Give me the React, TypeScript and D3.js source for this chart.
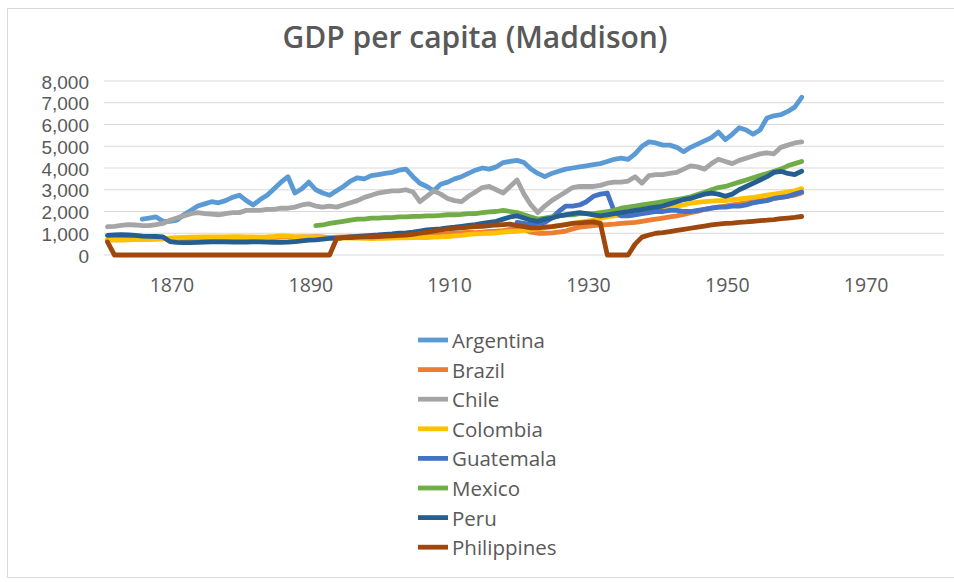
import React from "react";
import * as d3 from "d3";

const years = [
  1861, 1862, 1863, 1864, 1865, 1866, 1867, 1868, 1869, 1870,
  1871, 1872, 1873, 1874, 1875, 1876, 1877, 1878, 1879, 1880,
  1881, 1882, 1883, 1884, 1885, 1886, 1887, 1888, 1889, 1890,
  1891, 1892, 1893, 1894, 1895, 1896, 1897, 1898, 1899, 1900,
  1901, 1902, 1903, 1904, 1905, 1906, 1907, 1908, 1909, 1910,
  1911, 1912, 1913, 1914, 1915, 1916, 1917, 1918, 1919, 1920,
  1921, 1922, 1923, 1924, 1925, 1926, 1927, 1928, 1929, 1930,
  1931, 1932, 1933, 1934, 1935, 1936, 1937, 1938, 1939, 1940,
  1941, 1942, 1943, 1944, 1945, 1946, 1947, 1948, 1949, 1950,
  1951, 1952, 1953, 1954, 1955, 1956, 1957, 1958, 1959, 1960,
  1961,
];

const _ = null;

const argentina = [
  _, _, _, _, _, 1650, 1700, 1750, 1550, 1550,
  1600, 1850, 2050, 2250, 2350, 2450, 2400, 2500, 2650, 2750,
  2500, 2300, 2550, 2750, 3050, 3350, 3600, 2850, 3050, 3350,
  3000, 2850, 2750, 2950, 3150, 3400, 3550, 3500, 3650, 3700,
  3750, 3800, 3900, 3950, 3600, 3300, 3150, 2950, 3250, 3350,
  3500, 3600, 3750, 3900, 4000, 3950, 4050, 4250, 4300, 4350,
  4250, 3950, 3750, 3600, 3750, 3850, 3950, 4000, 4050, 4100,
  4150, 4200, 4300, 4400, 4450, 4400, 4650, 5000, 5200, 5150,
  5050, 5050, 4950, 4750, 4950, 5100, 5250, 5400, 5650, 5300,
  5550, 5850, 5750, 5550, 5750, 6300, 6400, 6450, 6600, 6800,
  7250,
];

const brazil = [
  700, 700, 710, 720, 720, 730, 730, 740, 740, 750,
  760, 760, 770, 770, 780, 780, 780, 790, 790, 800,
  800, 800, 810, 810, 800, 820, 820, 820, 830, 830,
  840, 830, 800, 820, 830, 840, 820, 810, 800, 800,
  820, 840, 850, 870, 880, 900, 920, 930, 950, 980,
  1000, 1020, 1050, 1030, 1050, 1080, 1100, 1120, 1180, 1220,
  1180, 1050, 1000, 1000, 1020, 1050, 1100, 1200, 1280, 1320,
  1350, 1380, 1400, 1420, 1450, 1480, 1500, 1550, 1600, 1650,
  1700, 1750, 1800, 1870, 1950, 2000, 2100, 2150, 2200, 2250,
  2300, 2350, 2400, 2450, 2500, 2550, 2600, 2650, 2700, 2750,
  2850,
];

const chile = [
  1300, 1320, 1360, 1400, 1380, 1350, 1350, 1400, 1450, 1600,
  1700, 1800, 1900, 1950, 1900, 1880, 1850, 1900, 1950, 1950,
  2050, 2050, 2050, 2100, 2100, 2150, 2150, 2200, 2300, 2350,
  2250, 2200, 2250, 2200, 2300, 2400, 2500, 2650, 2750, 2850,
  2900, 2950, 2950, 3000, 2900, 2450, 2700, 2950, 2800, 2600,
  2500, 2450, 2700, 2900, 3100, 3150, 3000, 2850, 3150, 3450,
  2800, 2300, 1950, 2250, 2500, 2700, 2900, 3100, 3150, 3150,
  3150, 3200, 3300, 3350, 3350, 3400, 3600, 3300, 3650, 3700,
  3700, 3750, 3800, 3950, 4100, 4050, 3950, 4200, 4400, 4300,
  4200, 4350, 4450, 4550, 4650, 4700, 4650, 4950, 5050, 5150,
  5200,
];

const colombia = [
  700, 700, 690, 700, 710, 720, 720, 730, 750, 780,
  800, 810, 820, 820, 830, 830, 830, 830, 840, 840,
  830, 830, 820, 830, 850, 880, 870, 840, 830, 820,
  810, 800, 790, 780, 780, 780, 780, 760, 750, 760,
  770, 780, 790, 790, 800, 800, 800, 820, 830, 850,
  880, 900, 950, 970, 980, 1000, 1020, 1050, 1080, 1100,
  1130, 1160, 1200, 1250, 1300, 1350, 1400, 1450, 1500, 1550,
  1600, 1680, 1750, 1800, 1850, 1900, 1950, 2000, 2050, 2100,
  2150, 2200, 2250, 2300, 2380, 2420, 2450, 2480, 2500, 2500,
  2550, 2580, 2620, 2650, 2700, 2750, 2800, 2850, 2900, 2950,
  3050,
];

const guatemala = [
  _, _, _, _, _, _, _, _, _, _,
  _, _, _, _, _, _, _, _, _, _,
  _, _, _, _, _, _, _, _, _, _,
  _, _, _, _, _, _, _, _, _, _,
  _, _, _, _, _, _, _, _, _, _,
  _, _, _, _, _, _, _, _, _, 1500,
  1450, 1400, 1450, 1500, 1700, 2000, 2250, 2250, 2300, 2450,
  2700, 2800, 2850, 2000, 1800, 1800, 1850, 1900, 1950, 2000,
  2000, 2050, 2050, 2000, 2000, 2050, 2100, 2150, 2200, 2200,
  2250, 2250, 2300, 2400, 2450, 2500, 2600, 2650, 2700, 2800,
  2900,
];

const mexico = [
  _, _, _, _, _, _, _, _, _, _,
  _, _, _, _, _, _, _, _, _, _,
  _, _, _, _, _, _, _, _, _, _,
  1350, 1380, 1450, 1500, 1550, 1600, 1650, 1650, 1700, 1700,
  1720, 1720, 1750, 1750, 1780, 1780, 1800, 1800, 1820, 1850,
  1850, 1870, 1900, 1900, 1950, 1980, 2000, 2050, 2000, 1950,
  1850, 1750, 1650, 1700, 1750, 1800, 1850, 1850, 1900, 1900,
  1900, 1950, 2000, 2050, 2150, 2200, 2250, 2300, 2350, 2400,
  2450, 2500, 2550, 2600, 2680, 2780, 2880, 3000, 3100, 3150,
  3250, 3350, 3450, 3550, 3650, 3750, 3850, 3950, 4100, 4200,
  4300,
];

const peru = [
  900, 920, 930, 920, 900, 870, 860, 850, 830, 620,
  580, 570, 570, 580, 590, 600, 600, 600, 590, 590,
  590, 600, 600, 590, 580, 580, 590, 620, 650, 680,
  700, 730, 760, 780, 800, 830, 860, 880, 900, 920,
  950, 970, 1000, 1020, 1050, 1100, 1150, 1180, 1200, 1250,
  1280, 1320, 1360, 1400, 1450, 1500, 1550, 1650, 1750, 1800,
  1700, 1600, 1550, 1650, 1700, 1800, 1850, 1900, 1950, 1900,
  1850, 1800, 1850, 1900, 1950, 2000, 2050, 2100, 2150, 2200,
  2250, 2350, 2450, 2550, 2600, 2700, 2800, 2850, 2800, 2700,
  2800, 3000, 3150, 3300, 3450, 3600, 3800, 3850, 3750, 3700,
  3850,
];

const philippines = [
  600, 0, 0, 0, 0, 0, 0, 0, 0, 0,
  0, 0, 0, 0, 0, 0, 0, 0, 0, 0,
  0, 0, 0, 0, 0, 0, 0, 0, 0, 0,
  0, 0, 0, 750, 800, 800, 820, 830, 830, 850,
  870, 880, 900, 920, 950, 1000, 1050, 1100, 1150, 1200,
  1220, 1250, 1280, 1300, 1320, 1350, 1380, 1400, 1420, 1350,
  1300, 1250, 1250, 1280, 1300, 1350, 1400, 1450, 1480, 1500,
  1520, 1450, 0, 0, 0, 0, 500, 820, 920, 1000,
  1030, 1080, 1130, 1180, 1230, 1280, 1330, 1380, 1420, 1450,
  1470, 1500, 1520, 1550, 1580, 1600, 1630, 1670, 1700, 1730,
  1770,
];

const seriesNames = ["Argentina", "Brazil", "Chile", "Colombia", "Guatemala", "Mexico", "Peru", "Philippines"];
const seriesValues = [argentina, brazil, chile, colombia, guatemala, mexico, peru, philippines];
const seriesColors = ["#5B9BD5", "#ED7D31", "#A5A5A5", "#FFC000", "#4472C4", "#70AD47", "#255E91", "#9E480E"];

const yTicks = [0, 1000, 2000, 3000, 4000, 5000, 6000, 7000, 8000];
const xTicks = [1870, 1890, 1910, 1930, 1950, 1970];
const title = "GDP per capita (Maddison)";

const FONT = "'Open Sans', 'Noto Sans', sans-serif";
const TICK_FONT = "'Liberation Sans', Arial, sans-serif";
const TEXT = "#595959";

export default function App() {
  const W = 954;
  const H = 582;
  const x = d3.scaleLinear().domain([1860.5, 1981.5]).range([104, 944]);
  const y = d3.scaleLinear().domain([0, 8000]).range([255, 81]);
  const fmt = d3.format(",");

  const line = d3
    .line<number | null>()
    .defined((v) => v != null)
    .x((_v, i) => x(years[i]))
    .y((v) => y(v as number));

  return (
    <svg
      width={W}
      height={H}
      style={{ position: "absolute", left: 0, top: 0, background: "#fff" }}
      fontFamily={FONT}
    >
      <rect x={7.5} y={8.5} width={950} height={569} fill="#fff" stroke="#D9D9D9" />
      <text x={475} y={36} textAnchor="middle" dominantBaseline="central" fontSize={30} fontWeight={600} fill={TEXT}>
        {title}
      </text>
      {yTicks.map((t) => (
        <g key={t}>
          <line x1={104} x2={944} y1={y(t)} y2={y(t)} stroke="#D9D9D9" strokeWidth={1} />
          <text
            x={89}
            y={y(t) + 1}
            textAnchor="end"
            dominantBaseline="central"
            fontSize={19}
            fontFamily={TICK_FONT}
            fill={TEXT}
          >
            {fmt(t)}
          </text>
        </g>
      ))}
      {xTicks.map((t) => (
        <text key={t} x={x(t) + 2} y={284} textAnchor="middle" dominantBaseline="central" fontSize={19.5} fill={TEXT}>
          {t}
        </text>
      ))}
      {seriesValues.map((vals, i) => (
        <path
          key={seriesNames[i]}
          d={line(vals) || ""}
          fill="none"
          stroke={seriesColors[i]}
          strokeWidth={4.8}
          strokeLinejoin="round"
          strokeLinecap="round"
        />
      ))}
      {seriesNames.map((name, i) => {
        const ly = 340 + i * 29.6;
        return (
          <g key={name}>
            <line x1={418} x2={448} y1={ly} y2={ly} stroke={seriesColors[i]} strokeWidth={4.8} />
            <text x={452} y={ly} dominantBaseline="central" fontSize={20.5} fill={TEXT}>
              {name}
            </text>
          </g>
        );
      })}
    </svg>
  );
}
